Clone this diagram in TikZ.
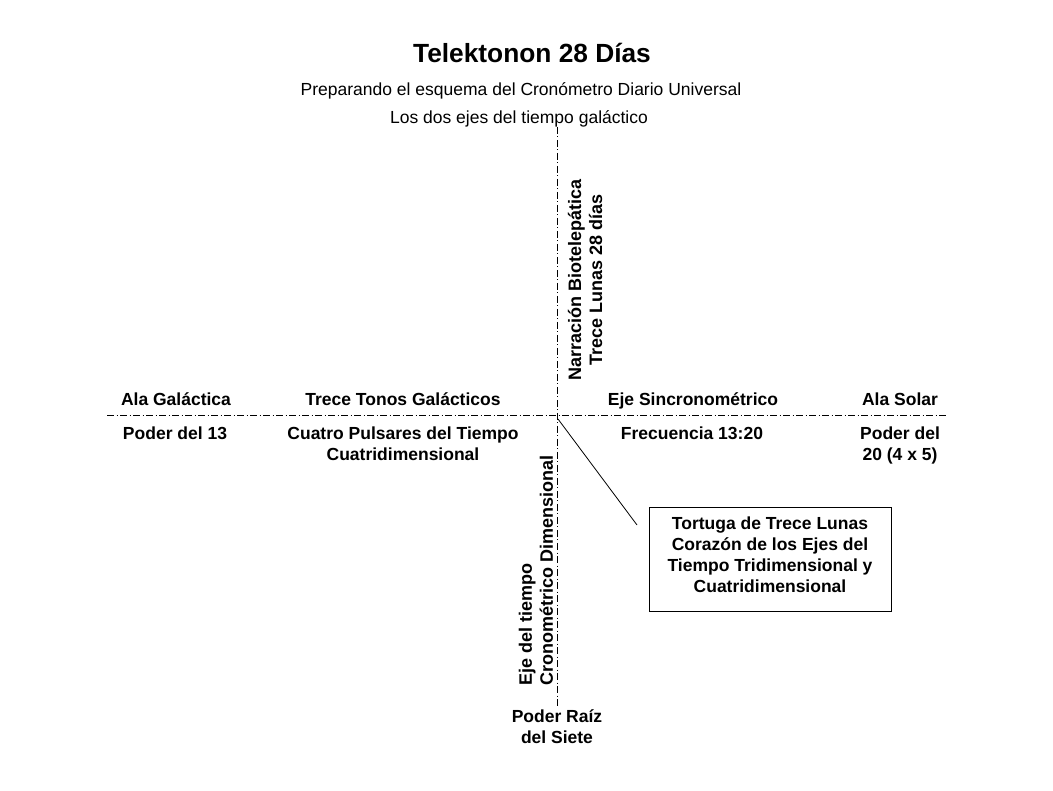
\documentclass[tikz,border=0pt]{standalone}
\usepackage{fontspec}
\setmainfont{Liberation Sans}
\begin{document}
\begin{tikzpicture}[x=1pt,y=-1pt,
  lbl/.style={font=\fontsize{17.5}{21}\selectfont\bfseries, align=center, inner sep=0pt},
  vlbl/.style={font=\fontsize{18}{21}\selectfont\bfseries, align=center, inner sep=0pt, rotate=90},
  caption/.style={font=\fontsize{17.5}{20}\selectfont, inner sep=0pt},
  heading/.style={font=\fontsize{26.3}{30}\selectfont\bfseries, inner sep=0pt},
  axisline/.style={line width=1pt, dash pattern=on 7pt off 2.5pt on 1pt off 2.5pt},
  leader/.style={line width=0.8pt},
  notebox/.style={draw, line width=1pt, minimum width=242pt, minimum height=103pt, inner sep=0pt}]
\useasboundingbox[fill=white] (0,0) rectangle (1053,791);

% headings
\node[heading, anchor=base] (title) at (532,63) {Telektonon 28 Días};
\node[caption, anchor=base] (sub1) at (521,96) {Preparando el esquema del Cronómetro Diario Universal};
\node[caption, anchor=base] (sub2) at (519,124) {Los dos ejes del tiempo galáctico};

% the two axes
\coordinate (W) at (107,416);
\coordinate (E) at (947,416);
\coordinate (N) at (557,127);
\coordinate (S) at (557,708);
\draw[axisline] (W) -- (E);
\draw[axisline] (N) -- (S);

% labels above the horizontal axis
\node[lbl, anchor=base] (alagal) at (176,406) {Ala Galáctica};
\node[lbl, anchor=base] (tonos) at (403,406) {Trece Tonos Galácticos};
\node[lbl, anchor=base] (sincro) at (693,406) {Eje Sincronométrico};
\node[lbl, anchor=base] (alasol) at (900,406) {Ala Solar};

% labels below the horizontal axis
\node[lbl, anchor=north] (poder13) at (175,426.4) {Poder del 13};
\node[lbl, anchor=north] (pulsares) at (403,426.4) {Cuatro Pulsares del Tiempo\\Cuatridimensional};
\node[lbl, anchor=north] (frec) at (692,426.4) {Frecuencia 13:20};
\node[lbl, anchor=north] (poder20) at (900,426.4) {Poder del\\20 (4 x 5)};

% labels along the vertical axis
\node[vlbl] (narr) at (585,280) {Narración Biotelepática\\Trece Lunas 28 días};
\node[vlbl, align=left, anchor=west] (crono) at (536,686) {Eje del tiempo\\Cronométrico Dimensional};
\node[lbl, anchor=north] (raiz) at (557,709.4) {Poder Raíz\\del Siete};

% note box with its leader line
\node[notebox] (box) at (770,559.5) {};
\node[lbl, anchor=north] (boxtext) at (770,516.4) {Tortuga de Trece Lunas\\Corazón de los Ejes del\\Tiempo Tridimensional y\\Cuatridimensional};
\coordinate (cross) at (558,419);
\coordinate (leaderend) at (637,525);
\draw[leader] (cross) -- (leaderend);
\end{tikzpicture}
\end{document}
